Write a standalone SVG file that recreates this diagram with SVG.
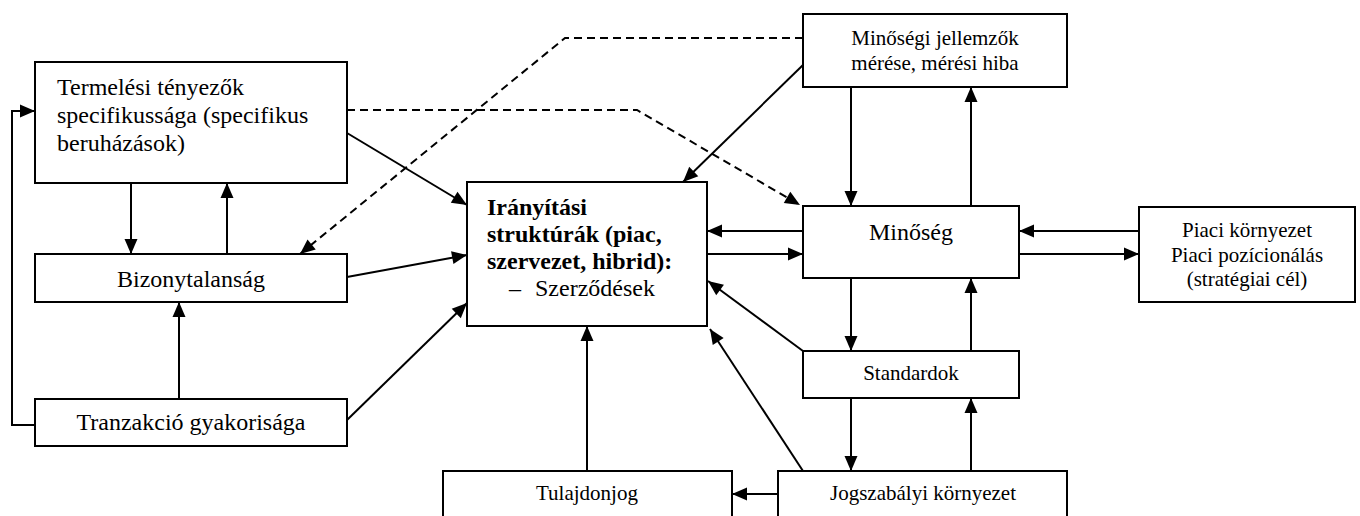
<svg xmlns="http://www.w3.org/2000/svg" width="1360" height="516" viewBox="0 0 1360 516">
<style>
.box{fill:#fff;stroke:#000;stroke-width:2}
.t{fill:#000;font-family:"Liberation Serif","Times New Roman",serif}
.l24{font-size:24px}
.l21{font-size:21px}
.c{text-anchor:middle}
.b{font-weight:bold}
.con{fill:none;stroke:#000;stroke-width:2}
.arr{marker-end:url(#ah)}
.dash{stroke-dasharray:8 5}
</style>
<defs>
<marker id="ah" markerUnits="userSpaceOnUse" markerWidth="17" markerHeight="15" refX="16" refY="7.5" orient="auto">
<path d="M1,1 L16,7.5 L1,14 z" fill="#000"/>
</marker>
</defs>
<rect width="1360" height="516" fill="#fff"/>
<g id="connectors">
<line class="con arr" x1="347" y1="133" x2="467" y2="205"/>
<line class="con arr" x1="347" y1="277" x2="467" y2="255"/>
<line class="con arr" x1="347" y1="420" x2="467" y2="303"/>
<line class="con arr" x1="131" y1="183" x2="131" y2="254"/>
<line class="con arr" x1="227" y1="254" x2="227" y2="183"/>
<line class="con arr" x1="179" y1="399" x2="179" y2="302"/>
<polyline class="con arr" points="35,425 12,425 12,111 35,111"/>
<polyline class="con arr dash" points="803,38 565,38 300,254"/>
<polyline class="con arr dash" points="347,110 637,110 800,205"/>
<line class="con arr" x1="803" y1="65" x2="683" y2="182"/>
<line class="con arr" x1="803" y1="231" x2="707" y2="231"/>
<line class="con arr" x1="707" y1="254" x2="803" y2="254"/>
<line class="con arr" x1="851" y1="87" x2="851" y2="206"/>
<line class="con arr" x1="971" y1="206" x2="971" y2="87"/>
<line class="con arr" x1="1139" y1="231" x2="1019" y2="231"/>
<line class="con arr" x1="1019" y1="254" x2="1139" y2="254"/>
<line class="con arr" x1="851" y1="278" x2="851" y2="351"/>
<line class="con arr" x1="971" y1="351" x2="971" y2="278"/>
<line class="con arr" x1="803" y1="351" x2="708" y2="281"/>
<line class="con arr" x1="851" y1="398" x2="851" y2="471"/>
<line class="con arr" x1="971" y1="471" x2="971" y2="398"/>
<line class="con arr" x1="803" y1="471" x2="710" y2="329"/>
<line class="con arr" x1="778" y1="494" x2="732" y2="494"/>
<line class="con arr" x1="587" y1="471" x2="587" y2="326"/>
</g>
<g id="termelesi">
<rect class="box" x="35" y="62" width="312" height="121"/>
<text class="t l24" x="57" y="95">Termelési tényezők</text>
<text class="t l24" x="57" y="123">specifikussága (specifikus</text>
<text class="t l24" x="57" y="151">beruházások)</text>
</g>
<g id="bizonytalansag">
<rect class="box" x="35" y="254" width="312" height="48"/>
<text class="t l24 c" x="191" y="287">Bizonytalanság</text>
</g>
<g id="tranzakcio">
<rect class="box" x="35" y="399" width="312" height="47"/>
<text class="t l24 c" x="191" y="430">Tranzakció gyakorisága</text>
</g>
<g id="iranyitasi">
<rect class="box" x="467" y="182" width="240" height="144"/>
<text class="t l24 b" x="487" y="215">Irányítási</text>
<text class="t l24 b" x="487" y="242">struktúrák (piac,</text>
<text class="t l24 b" x="487" y="269">szervezet, hibrid):</text>
<text class="t l24" x="509" y="296">–</text>
<text class="t l24" x="535" y="296">Szerződések</text>
</g>
<g id="minosegi">
<rect class="box" x="803" y="14" width="264" height="73"/>
<text class="t l21 c" x="935" y="45">Minőségi jellemzők</text>
<text class="t l21 c" x="935" y="70">mérése, mérési hiba</text>
</g>
<g id="minoseg">
<rect class="box" x="803" y="206" width="216" height="72"/>
<text class="t l24 c" x="911" y="240">Minőség</text>
</g>
<g id="piaci">
<rect class="box" x="1139" y="207" width="216" height="95"/>
<text class="t l21 c" x="1247" y="237">Piaci környezet</text>
<text class="t l21 c" x="1247" y="262">Piaci pozícionálás</text>
<text class="t l21 c" x="1247" y="286">(stratégiai cél)</text>
</g>
<g id="standardok">
<rect class="box" x="803" y="351" width="216" height="47"/>
<text class="t l21 c" x="911" y="380">Standardok</text>
</g>
<g id="tulajdonjog">
<rect class="box" x="443" y="471" width="289" height="60"/>
<text class="t l21 c" x="587" y="500">Tulajdonjog</text>
</g>
<g id="jogszabalyi">
<rect class="box" x="778" y="471" width="289" height="60"/>
<text class="t l21 c" x="923" y="500">Jogszabályi környezet</text>
</g>
</svg>
